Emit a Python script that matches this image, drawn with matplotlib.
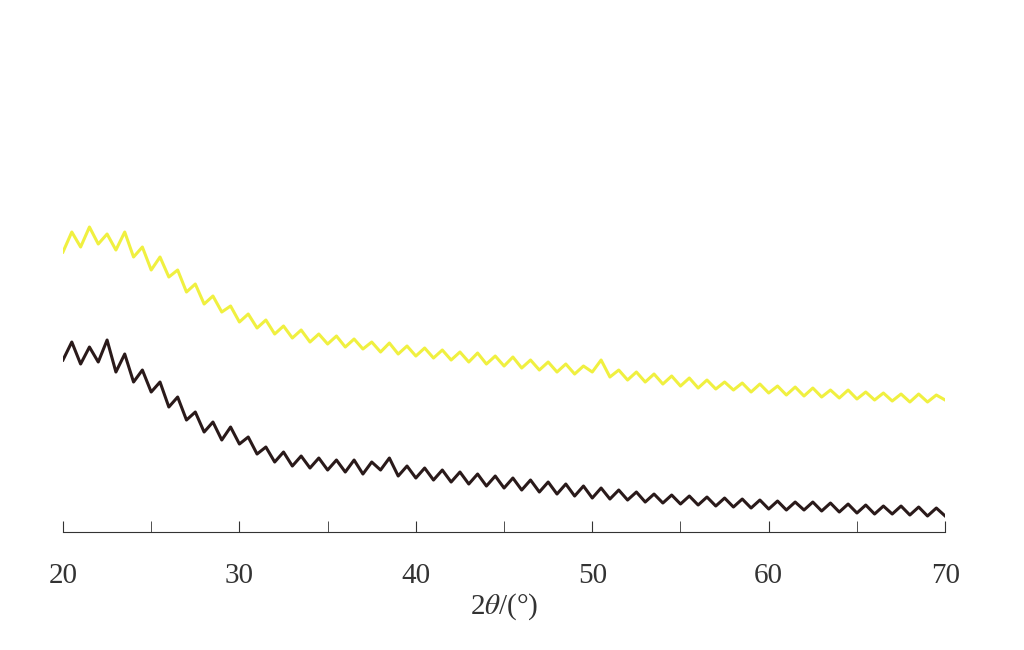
import numpy as np
import matplotlib
matplotlib.use("Agg")
import matplotlib.pyplot as plt

plt.rcParams["font.family"] = ["Liberation Serif", "DejaVu Serif"]
plt.rcParams["mathtext.fontset"] = "stix"

# 2theta grid, 0.5 deg steps
two_theta = np.arange(20, 70.01, 0.5)

# intensities, arbitrary units (baseline of the axis = 0)
yellow = [280, 300, 285, 305, 288, 298, 282, 300, 275, 285,
          262, 275, 255, 262, 240, 248, 228, 236, 220, 226,
          210, 218, 204, 212, 198, 206, 194, 202, 190, 198,
          188, 196, 185, 193, 183, 190, 180, 189, 178, 186,
          176, 184, 174, 182, 172, 180, 170, 179, 168, 176,
          166, 175, 164, 172, 162, 170, 160, 168, 158, 166,
          160, 172, 155, 162, 152, 160, 150, 158, 148, 156,
          146, 154, 144, 152, 143, 150, 142, 149, 140, 148,
          139, 146, 137, 145, 136, 144, 135, 142, 134, 142,
          133, 140, 132, 139, 131, 138, 130, 138, 130, 137, 132]
black = [172, 190, 168, 185, 170, 192, 160, 178, 150, 162,
         140, 150, 125, 135, 112, 120, 100, 110, 92, 105,
         88, 95, 78, 85, 70, 80, 66, 76, 64, 74,
         62, 72, 60, 72, 58, 70, 62, 74, 56, 66,
         54, 64, 52, 62, 50, 60, 48, 58, 46, 56,
         44, 54, 42, 52, 40, 50, 38, 48, 36, 46,
         34, 44, 33, 42, 32, 40, 30, 38, 29, 37,
         28, 36, 27, 35, 26, 34, 25, 33, 24, 32,
         23, 31, 22, 30, 22, 30, 21, 29, 20, 28,
         19, 27, 18, 26, 18, 26, 17, 25, 16, 24, 16]

fig = plt.figure(figsize=(10.24, 6.5), dpi=100)
ax = fig.add_axes([0.0615, 0.1815, 0.8615, 0.8185])

ax.plot(two_theta, yellow, color="#f0f040", linewidth=2.2)
ax.plot(two_theta, black, color="#2a1a1a", linewidth=2.2)

ax.set_xlim(20, 70)
ax.set_ylim(0, 532)
ax.spines[["top", "right", "left"]].set_visible(False)
ax.spines["bottom"].set_color("#333333")
ax.set_yticks([])
ax.set_xticks(range(20, 71, 10))
ax.set_xticks(range(25, 71, 10), minor=True)
ax.tick_params(axis="x", which="both", direction="in", length=8,
               color="#333333", labelsize=21, labelcolor="#333333", pad=22)
ax.set_xlabel(r"2$\it{\theta}$/(°)", fontsize=21, color="#333333", labelpad=2)

fig.savefig("out.png", dpi=100)
